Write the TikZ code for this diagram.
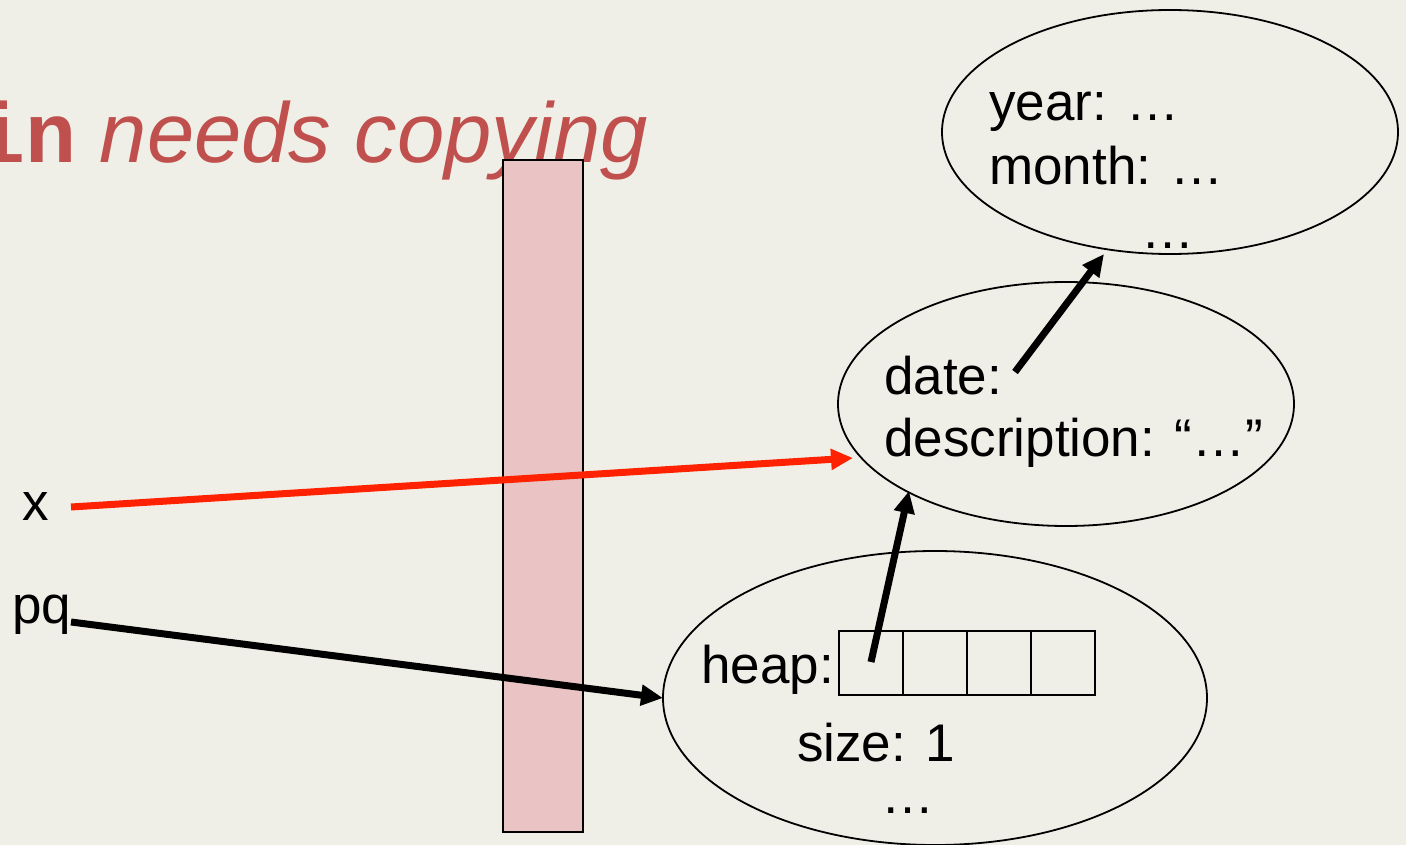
\documentclass[tikz,border=0pt]{standalone}
\usepackage{fontspec}
\setmainfont{Liberation Sans}
\newfontfamily\codefont{Liberation Mono}
\usetikzlibrary{arrows.meta,shapes.geometric}
\definecolor{bgc}{HTML}{F0EFE7}
\definecolor{titlec}{HTML}{C0504D}
\definecolor{pinkc}{HTML}{EAC4C4}
\definecolor{redc}{HTML}{FF2200}
\tikzset{
  txt/.style={anchor=base west, inner sep=0pt, font=\fontsize{53}{63}\selectfont},
  obj/.style={draw=black, line width=1.8pt, ellipse, inner sep=0pt},
  cell/.style={draw=black, line width=1.8pt, minimum width=64pt, minimum height=64pt, inner sep=0pt},
  ptr/.style={line width=7pt, -{Triangle[length=22pt,width=20pt]}},
}
\begin{document}
\begin{tikzpicture}[x=1pt,y=-1pt]
\fill[bgc] (0,0) rectangle (1406,845);
\useasboundingbox (0,0) rectangle (1406,845);
% title
\node[anchor=base west, inner sep=0pt, text=titlec, font=\fontsize{85}{100}\selectfont] (title) at (-26,163)
  {{\codefont\bfseries in} \itshape needs copying};
% stack strip
\node[draw=black, line width=1.8pt, fill=pinkc, minimum width=80pt, minimum height=672pt, inner sep=0pt] (strip) at (543,496) {};
% ellipses
\node[obj, minimum width=456pt, minimum height=244pt] (dateobj) at (1170,132) {};
\node[obj, minimum width=456pt, minimum height=244pt] (itemobj) at (1066,404) {};
\node[obj, minimum width=544pt, minimum height=294pt] (pqobj) at (935,698) {};
% texts
\node[txt] (year) at (989,121) {year: …};
\node[txt] (month) at (989,185) {month: …};
\node[txt] (dmore) at (1141,249) {…};
\node[txt] (date) at (884,394) {date:};
\node[txt] (desc) at (884,456) {description: “…”};
\node[txt] (heap) at (701,683) {heap:};
\node[txt] (size) at (797,761) {size: 1};
\node[txt] (pmore) at (881,813) {…};
\node[txt] (xl) at (22,520) {x};
\node[txt] (pql) at (12,623) {pq};
% heap cells
\node[cell] (c0) at (871,663) {};
\node[cell] (c1) at (935,663) {};
\node[cell] (c2) at (999,663) {};
\node[cell] (c3) at (1063,663) {};
% pointer coordinates
\coordinate (xs) at (71,507);
\coordinate (xe) at (853,458);
\coordinate (ps) at (71,622);
\coordinate (pe) at (663,698);
\coordinate (hs) at (871,662);
\coordinate (he) at (909,491);
\coordinate (ds) at (1015,372);
\coordinate (de) at (1104,254);
% pointers
\draw[ptr, draw=redc, fill=redc] (xs) -- (xe);
\draw[ptr] (ps) -- (pe);
\draw[ptr] (hs) -- (he);
\draw[ptr] (ds) -- (de);
\end{tikzpicture}
\end{document}
